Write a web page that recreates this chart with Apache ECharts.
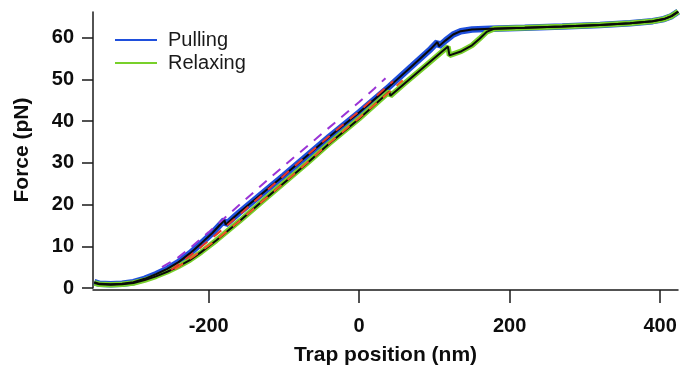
<!DOCTYPE html>
<html>
<head>
<meta charset="utf-8">
<script src="https://cdn.jsdelivr.net/npm/echarts@6/dist/echarts.min.js"></script>
<style>
html,body{margin:0;padding:0;background:#fff;}
#chart{width:680px;height:366px;}
</style>
</head>
<body>
<div id="chart"></div>
<script>
// Pulling trace (smoothed) [trap position nm, force pN]
var pulling = [[-352,1.4],[-345,1.0],[-330,0.9],[-315,1.0],[-300,1.4],[-285,2.2],[-270,3.3],[-255,4.6],[-240,6.2],[-225,8.3],[-210,10.7],[-195,13.2],[-179,16.3],[-177.5,15.2],[-160,18.0],[-130,22.5],[-100,27.0],[-70,31.6],[-40,36.2],[0,42.1],[40,48.3],[70,53.2],[95,57.3],[104,59.0],[106,58.0],[115,59.4],[125,60.8],[135,61.6],[150,62.0],[175,62.2],[220,62.4],[270,62.7],[320,63.1],[360,63.5],[390,64.0],[405,64.5],[415,65.2],[424,66.3]];
// Relaxing trace (smoothed)
var relaxing = [[-352,1.2],[-345,0.9],[-330,0.8],[-315,0.9],[-300,1.2],[-285,1.9],[-270,2.8],[-255,3.9],[-240,5.2],[-225,6.7],[-210,8.6],[-190,11.4],[-170,14.4],[-158,16.2],[-130,20.6],[-100,25.2],[-70,29.8],[-40,34.6],[0,40.6],[40,47.1],[41.5,46.1],[60,49.0],[90,53.6],[118,57.9],[120,55.8],[136,56.8],[150,58.2],[160,59.8],[170,61.5],[180,62.2],[220,62.4],[270,62.7],[320,63.1],[360,63.5],[390,64.0],[405,64.5],[415,65.2],[424,66.3]];
// WLC fits (dashed)
var fitRedUpper = [[-250,4.3],[-220,8.4],[-190,12.8],[-160,17.4],[-130,22.2],[-100,27.0],[-70,31.7],[-40,36.4],[0,42.4],[45,49.6]];
var fitRedLower = [[-245,4.5],[-220,7.6],[-190,11.5],[-160,15.9],[-130,20.6],[-100,25.2],[-70,29.9],[-40,34.7],[0,40.8],[40,47.0],[58,49.8]];
var fitPurple = [[-262,5.0],[-240,7.4],[-220,10.3],[-200,13.4],[-180,16.6],[-150,21.4],[-120,26.2],[-90,30.8],[-60,35.4],[-30,40.0],[0,44.6],[20,47.8],[35,50.3]];
var xTicks = [-200, 0, 200, 400];
var yTicks = [0, 10, 20, 30, 40, 50, 60];

var FONT = "'Liberation Sans', Arial, sans-serif";
var chart = echarts.init(document.getElementById('chart'), null, {renderer: 'canvas'});
chart.setOption({
  animation: false,
  backgroundColor: '#fff',
  grid: {left: 93, right: 2, top: 12, bottom: 78, containLabel: false, outerBoundsMode: 'none'},
  legend: {
    left: 115, top: 30, orient: 'vertical', padding: 0,
    icon: 'rect', itemWidth: 42, itemHeight: 2, itemGap: 3,
    data: ['Pulling', 'Relaxing'],
    textStyle: {fontFamily: FONT, fontSize: 20, color: '#1a1a1a', lineHeight: 20, padding: [0,0,0,6]}
  },
  xAxis: {
    type: 'value', min: -353.7, max: 423.7,
    splitLine: {show: false},
    axisLine: {show: true, onZero: false, lineStyle: {color: '#1a1a1a', width: 1.5}},
    axisTick: {show: true, length: 13, inside: false, customValues: xTicks, lineStyle: {color: '#1a1a1a', width: 1.5}},
    axisLabel: {customValues: xTicks, margin: 26, fontFamily: FONT, fontSize: 20, fontWeight: 'bold', color: '#0d0d0d'},
    offset: 2,
    name: 'Trap position (nm)', nameLocation: 'middle', nameGap: 55,
    nameTextStyle: {fontFamily: FONT, fontSize: 21, fontWeight: 'bold', color: '#0d0d0d'}
  },
  yAxis: {
    type: 'value', min: 0, max: 66.2,
    splitLine: {show: false},
    axisLine: {show: true, onZero: false, lineStyle: {color: '#1a1a1a', width: 1.5}},
    axisTick: {show: true, length: 11, customValues: yTicks, lineStyle: {color: '#1a1a1a', width: 1.5}},
    axisLabel: {customValues: yTicks, margin: 19, fontFamily: FONT, fontSize: 20, fontWeight: 'bold', color: '#0d0d0d'},
    name: 'Force (pN)', nameLocation: 'middle', nameGap: 60,
    nameTextStyle: {fontFamily: FONT, fontSize: 21, fontWeight: 'bold', color: '#0d0d0d'}
  },
  series: [
    {name: 'Pulling', type: 'line', data: pulling, symbol: 'none', color: '#1f4fdc', lineStyle: {width: 6.5, color: '#1f4fdc'}, z: 2},
    {name: 'Relaxing', type: 'line', data: relaxing, symbol: 'none', color: '#78d02a', lineStyle: {width: 5.5, color: '#78d02a'}, z: 3},
    {name: 'pullFit', type: 'line', data: pulling, symbol: 'none', lineStyle: {width: 2, color: '#0a0a0a'}, z: 4},
    {name: 'relaxFit', type: 'line', data: relaxing, symbol: 'none', lineStyle: {width: 2, color: '#0a0a0a'}, z: 4},
    {name: 'wlc1', type: 'line', data: fitRedUpper, symbol: 'none', lineStyle: {width: 2, color: '#e8362a', type: [10, 8]}, z: 5},
    {name: 'wlc2', type: 'line', data: fitRedLower, symbol: 'none', lineStyle: {width: 2, color: '#f05a22', type: [10, 8]}, z: 5},
    {name: 'wlc3', type: 'line', data: fitPurple, symbol: 'none', lineStyle: {width: 2, color: '#9a34d6', type: [10, 8]}, z: 5}
  ]
});
</script>
</body>
</html>
